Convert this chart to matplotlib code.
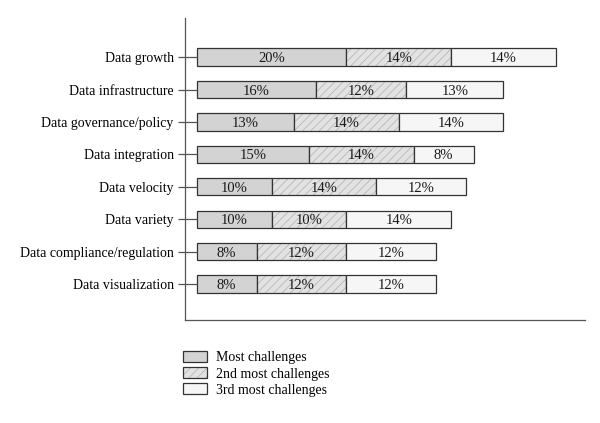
import matplotlib

matplotlib.use("Agg")
import matplotlib.pyplot as plt
import numpy as np
from matplotlib.legend_handler import HandlerTuple
from matplotlib.patches import Patch

categories = [
    "Data growth",
    "Data infrastructure",
    "Data governance/policy",
    "Data integration",
    "Data velocity",
    "Data variety",
    "Data compliance/regulation",
    "Data visualization",
]
most = [20, 16, 13, 15, 10, 10, 8, 8]
second = [14, 12, 14, 14, 14, 10, 12, 12]
third = [14, 13, 14, 8, 12, 14, 12, 12]
series_names = ["Most challenges", "2nd most challenges", "3rd most challenges"]

plt.rcParams["font.family"] = ["Liberation Serif", "DejaVu Serif"]
plt.rcParams["hatch.linewidth"] = 0.5

fig = plt.figure(figsize=(6.0, 4.23), dpi=100)
ax = fig.add_axes([0.308, 0.2435, 0.667, 0.7135])

y = np.arange(len(categories))
styles = [
    dict(facecolor="#d3d3d3", hatch=None),
    dict(facecolor="#e2e2e2", hatch="////"),
    dict(facecolor="#f6f6f6", hatch=None),
]
hatch_col = "#b0b0b0"
edge_col = "#333333"
left = np.zeros(len(categories))
handles = []
for vals, st, name in zip([most, second, third], styles, series_names):
    vals = np.array(vals, dtype=float)
    # fill + light hatch first, then a dark outline on top
    ax.barh(y, vals, left=left, height=0.53, color=st["facecolor"],
            edgecolor=hatch_col, linewidth=0, hatch=st["hatch"])
    ax.barh(y, vals, left=left, height=0.53, fill=False,
            edgecolor=edge_col, linewidth=0.9)
    handles.append((
        Patch(facecolor=st["facecolor"], edgecolor=hatch_col, linewidth=0,
              hatch=st["hatch"]),
        Patch(fill=False, edgecolor=edge_col, linewidth=0.9),
    ))
    for yi, l, v in zip(y, left, vals):
        ax.text(l + v / 2, yi, f"{int(v)}%", ha="center",
                va="center_baseline", fontsize=10.5, color="#1a1a1a")
    left += vals

ax.set_xlim(-1.6, 51.9)
ax.set_ylim(len(categories) - 1 + 1.11, -1.2)
ax.hlines(y, -1.6, 0, color="#555555", linewidth=0.9)
ax.set_yticks(y)
ax.set_yticklabels(categories, fontsize=10)
ax.tick_params(axis="y", length=5, width=0.9, color="#555555", pad=3)
ax.set_xticks([])
for s in ["top", "right"]:
    ax.spines[s].set_visible(False)
for s in ["left", "bottom"]:
    ax.spines[s].set_color("#555555")
    ax.spines[s].set_linewidth(0.9)

fig.legend(handles=handles, labels=series_names, loc="upper left",
           bbox_to_anchor=(0.305, 0.17), frameon=False, fontsize=10,
           handlelength=1.75, handleheight=0.85, labelspacing=0.2,
           handletextpad=0.6, borderpad=0, borderaxespad=0,
           handler_map={tuple: HandlerTuple(ndivide=1)})

fig.savefig("out.png", dpi=100)
